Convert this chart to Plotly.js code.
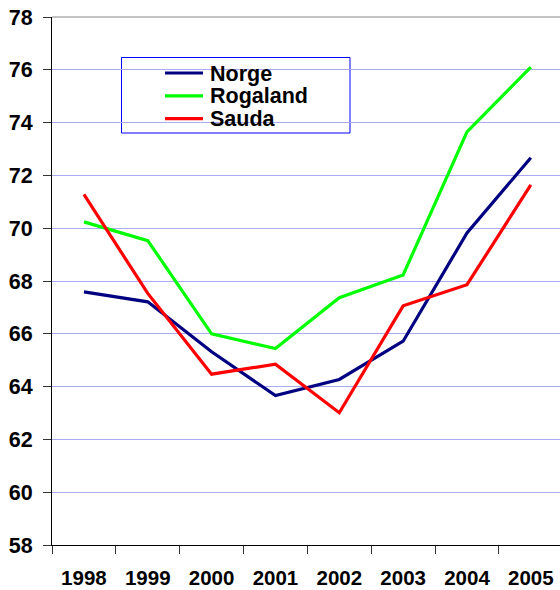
<!DOCTYPE html>
<html>
<head>
<meta charset="utf-8">
<script src="https://cdn.plot.ly/plotly-3.0.1.min.js"></script>
<style>
html,body{margin:0;padding:0;background:#fff;}
#chart{width:560px;height:590px;}
</style>
</head>
<body>
<div id="chart"></div>
<script>
const years = ['1998','1999','2000','2001','2002','2003','2004','2005'];
const norge = [67.59, 67.21, 65.32, 63.66, 64.27, 65.72, 69.82, 72.67];
const rogaland = [70.24, 69.53, 66.00, 65.44, 67.37, 68.23, 73.65, 76.10];
const sauda = [71.28, 67.53, 64.47, 64.85, 63.01, 67.06, 67.86, 71.64];
const seriesNames = ['Norge', 'Rogaland', 'Sauda'];
const seriesColors = ['#000080', '#00ff00', '#ff0000'];
const yTicks = [58, 60, 62, 64, 66, 68, 70, 72, 74, 76, 78];

const FONT = 'Liberation Sans, Arial, sans-serif';
const W = 560, H = 590;
const M = {l: 52, r: 0, t: 17, b: 45};
const plotW = W - M.l - M.r, plotH = H - M.t - M.b;
// pixel -> paper helpers for the legend box (not data marks)
const px = x => (x - M.l) / plotW;
const py = y => (H - M.b - y) / plotH;

const values = [norge, rogaland, sauda];
const traces = values.map((v, i) => ({
  x: years, y: v, type: 'scatter', mode: 'lines', name: seriesNames[i],
  line: {color: seriesColors[i], width: 3.2}, showlegend: false
}));

const shapes = [
  {type: 'line', xref: 'paper', yref: 'paper', x0: 0, x1: 1, y0: 1, y1: 1,
   line: {color: '#888888', width: 1}, layer: 'between'},
  {type: 'rect', xref: 'paper', yref: 'paper', x0: px(121.5), x1: px(350), y0: py(133), y1: py(57.5),
   fillcolor: '#ffffff', line: {color: '#0000ff', width: 1}, layer: 'between'}
];
const annotations = [];
seriesNames.forEach((name, i) => {
  const yc = 73 + 22.8 * i;
  shapes.push({type: 'line', xref: 'paper', yref: 'paper', x0: px(165), x1: px(203), y0: py(yc), y1: py(yc),
    line: {color: seriesColors[i], width: 3.2}, layer: 'above'});
  annotations.push({xref: 'paper', yref: 'paper', x: px(208), y: py(yc + 0.5), xanchor: 'left', yanchor: 'middle',
    text: name, showarrow: false,
    font: {family: FONT, size: 21.5, color: '#000000', weight: 'bold'}});
});

const layout = {
  width: W, height: H,
  margin: M,
  paper_bgcolor: '#ffffff', plot_bgcolor: '#ffffff',
  font: {family: FONT, color: '#000000'},
  showlegend: false,
  xaxis: {
    type: 'category', range: [-0.5, 7.457], fixedrange: true,
    showgrid: false, zeroline: false,
    showline: true, linecolor: '#000000', linewidth: 1,
    ticks: 'outside', tickson: 'boundaries', ticklen: 8, tickcolor: '#333333',
    tickfont: {family: FONT, size: 20.5, color: '#000000', weight: 'bold'},
    ticklabelstandoff: 14
  },
  yaxis: {
    range: [58, 78], tickvals: yTicks, ticktext: yTicks.map(String),
    showgrid: true, gridcolor: '#aaaaf5', gridwidth: 1,
    zeroline: false, showline: true, linecolor: '#000000', linewidth: 1,
    ticks: 'outside', ticklen: 8, tickcolor: '#333333',
    tickfont: {family: FONT, size: 21.5, color: '#000000', weight: 'bold'},
    ticklabelstandoff: 6
  },
  shapes: shapes,
  annotations: annotations
};

Plotly.newPlot('chart', traces, layout, {displayModeBar: false, staticPlot: true});
</script>
</body>
</html>
